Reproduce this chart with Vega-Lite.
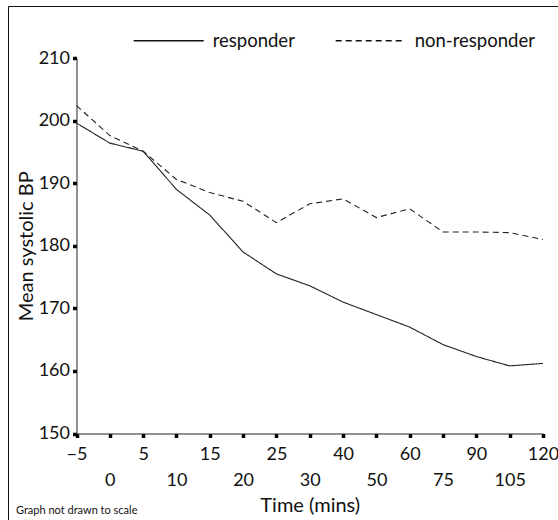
{
  "$schema": "https://vega.github.io/schema/vega-lite/v6.json",
  "width": 550,
  "height": 514,
  "autosize": "none",
  "padding": {"left": 8, "top": 6, "right": 0, "bottom": 0},
  "background": "white",
  "config": {
    "view": {"stroke": "#111", "strokeWidth": 1},
    "font": "Lato",
    "text": {"font": "Lato"}
  },
  "title": {
    "text": "Graph not drawn to scale",
    "orient": "bottom",
    "anchor": "start",
    "frame": "group",
    "offset": -6,
    "baseline": "alphabetic",
    "dx": 8,
    "fontSize": 11,
    "fontWeight": "normal",
    "font": "Lato",
    "color": "#111"
  },
  "data": {
    "values": [
      {"time": -5, "group": "responder", "bp": 199.6},
      {"time": 0, "group": "responder", "bp": 196.4},
      {"time": 5, "group": "responder", "bp": 195.1},
      {"time": 10, "group": "responder", "bp": 189.0},
      {"time": 15, "group": "responder", "bp": 184.9},
      {"time": 20, "group": "responder", "bp": 179.0},
      {"time": 25, "group": "responder", "bp": 175.5},
      {"time": 30, "group": "responder", "bp": 173.6},
      {"time": 40, "group": "responder", "bp": 171.0},
      {"time": 50, "group": "responder", "bp": 169.0},
      {"time": 60, "group": "responder", "bp": 167.0},
      {"time": 75, "group": "responder", "bp": 164.2},
      {"time": 90, "group": "responder", "bp": 162.3},
      {"time": 105, "group": "responder", "bp": 160.8},
      {"time": 120, "group": "responder", "bp": 161.2},
      {"time": -5, "group": "non-responder", "bp": 202.4},
      {"time": 0, "group": "non-responder", "bp": 197.6},
      {"time": 5, "group": "non-responder", "bp": 195.1},
      {"time": 10, "group": "non-responder", "bp": 190.6},
      {"time": 15, "group": "non-responder", "bp": 188.5},
      {"time": 20, "group": "non-responder", "bp": 187.1},
      {"time": 25, "group": "non-responder", "bp": 183.7},
      {"time": 30, "group": "non-responder", "bp": 186.7},
      {"time": 40, "group": "non-responder", "bp": 187.5},
      {"time": 50, "group": "non-responder", "bp": 184.5},
      {"time": 60, "group": "non-responder", "bp": 185.9},
      {"time": 75, "group": "non-responder", "bp": 182.2},
      {"time": 90, "group": "non-responder", "bp": 182.2},
      {"time": 105, "group": "non-responder", "bp": 182.1},
      {"time": 120, "group": "non-responder", "bp": 181.0}
    ]
  },
  "mark": {"type": "line", "strokeWidth": 1.1, "color": "#222"},
  "encoding": {
    "x": {
      "field": "time",
      "type": "ordinal",
      "scale": {"type": "point", "padding": 0, "range": [68.5, 535]},
      "axis": {
        "title": "Time (mins)",
        "offset": -86.5,
        "labelAngle": 0,
        "labelExpr": "datum.value < 0 ? '−' + abs(datum.value) : datum.label",
        "labelFontSize": 18,
        "labelFont": "Lato",
        "labelColor": "#111",
        "labelPadding": {"condition": {"test": "datum.value == 0 || datum.value == 10 || datum.value == 20 || datum.value == 30 || datum.value == 50 || datum.value == 75 || datum.value == 105", "value": 33.5}, "value": 7.5},
        "tickSize": 4,
        "tickWidth": 3.5,
        "tickColor": "#000",
        "domainColor": "#222",
        "domainWidth": 1,
        "titleFontSize": 20,
        "titleFont": "Lato",
        "titleFontWeight": "normal",
        "titleColor": "#111",
        "titlePadding": 6,
        "grid": false
      }
    },
    "y": {
      "field": "bp",
      "type": "quantitative",
      "scale": {"domain": [150, 210], "range": [427.5, 52], "nice": false, "zero": false},
      "axis": {
        "title": "Mean systolic BP",
        "offset": -68.5,
        "values": [150, 160, 170, 180, 190, 200, 210],
        "labelFontSize": 18,
        "labelFont": "Lato",
        "labelColor": "#111",
        "labelPadding": 3,
        "tickSize": 4,
        "tickWidth": 3.5,
        "tickColor": "#000",
        "domainColor": "#222",
        "domainWidth": 1,
        "titleFontSize": 20,
        "titleFont": "Lato",
        "titleFontWeight": "normal",
        "titleColor": "#111",
        "titlePadding": 2,
        "grid": false
      }
    },
    "strokeDash": {
      "field": "group",
      "type": "nominal",
      "scale": {"domain": ["responder", "non-responder"], "range": [[1, 0], [6, 4]]},
      "legend": {
        "title": null,
        "orient": "none",
        "legendX": 124.7,
        "legendY": -1.5,
        "direction": "horizontal",
        "symbolType": "stroke",
        "symbolSize": 4900,
        "symbolStrokeWidth": 1.3,
        "symbolStrokeColor": "#111",
        "labelFontSize": 18.5,
        "labelFont": "Lato",
        "labelColor": "#111",
        "labelOffset": 8,
        "columnPadding": 37
      }
    }
  }
}
